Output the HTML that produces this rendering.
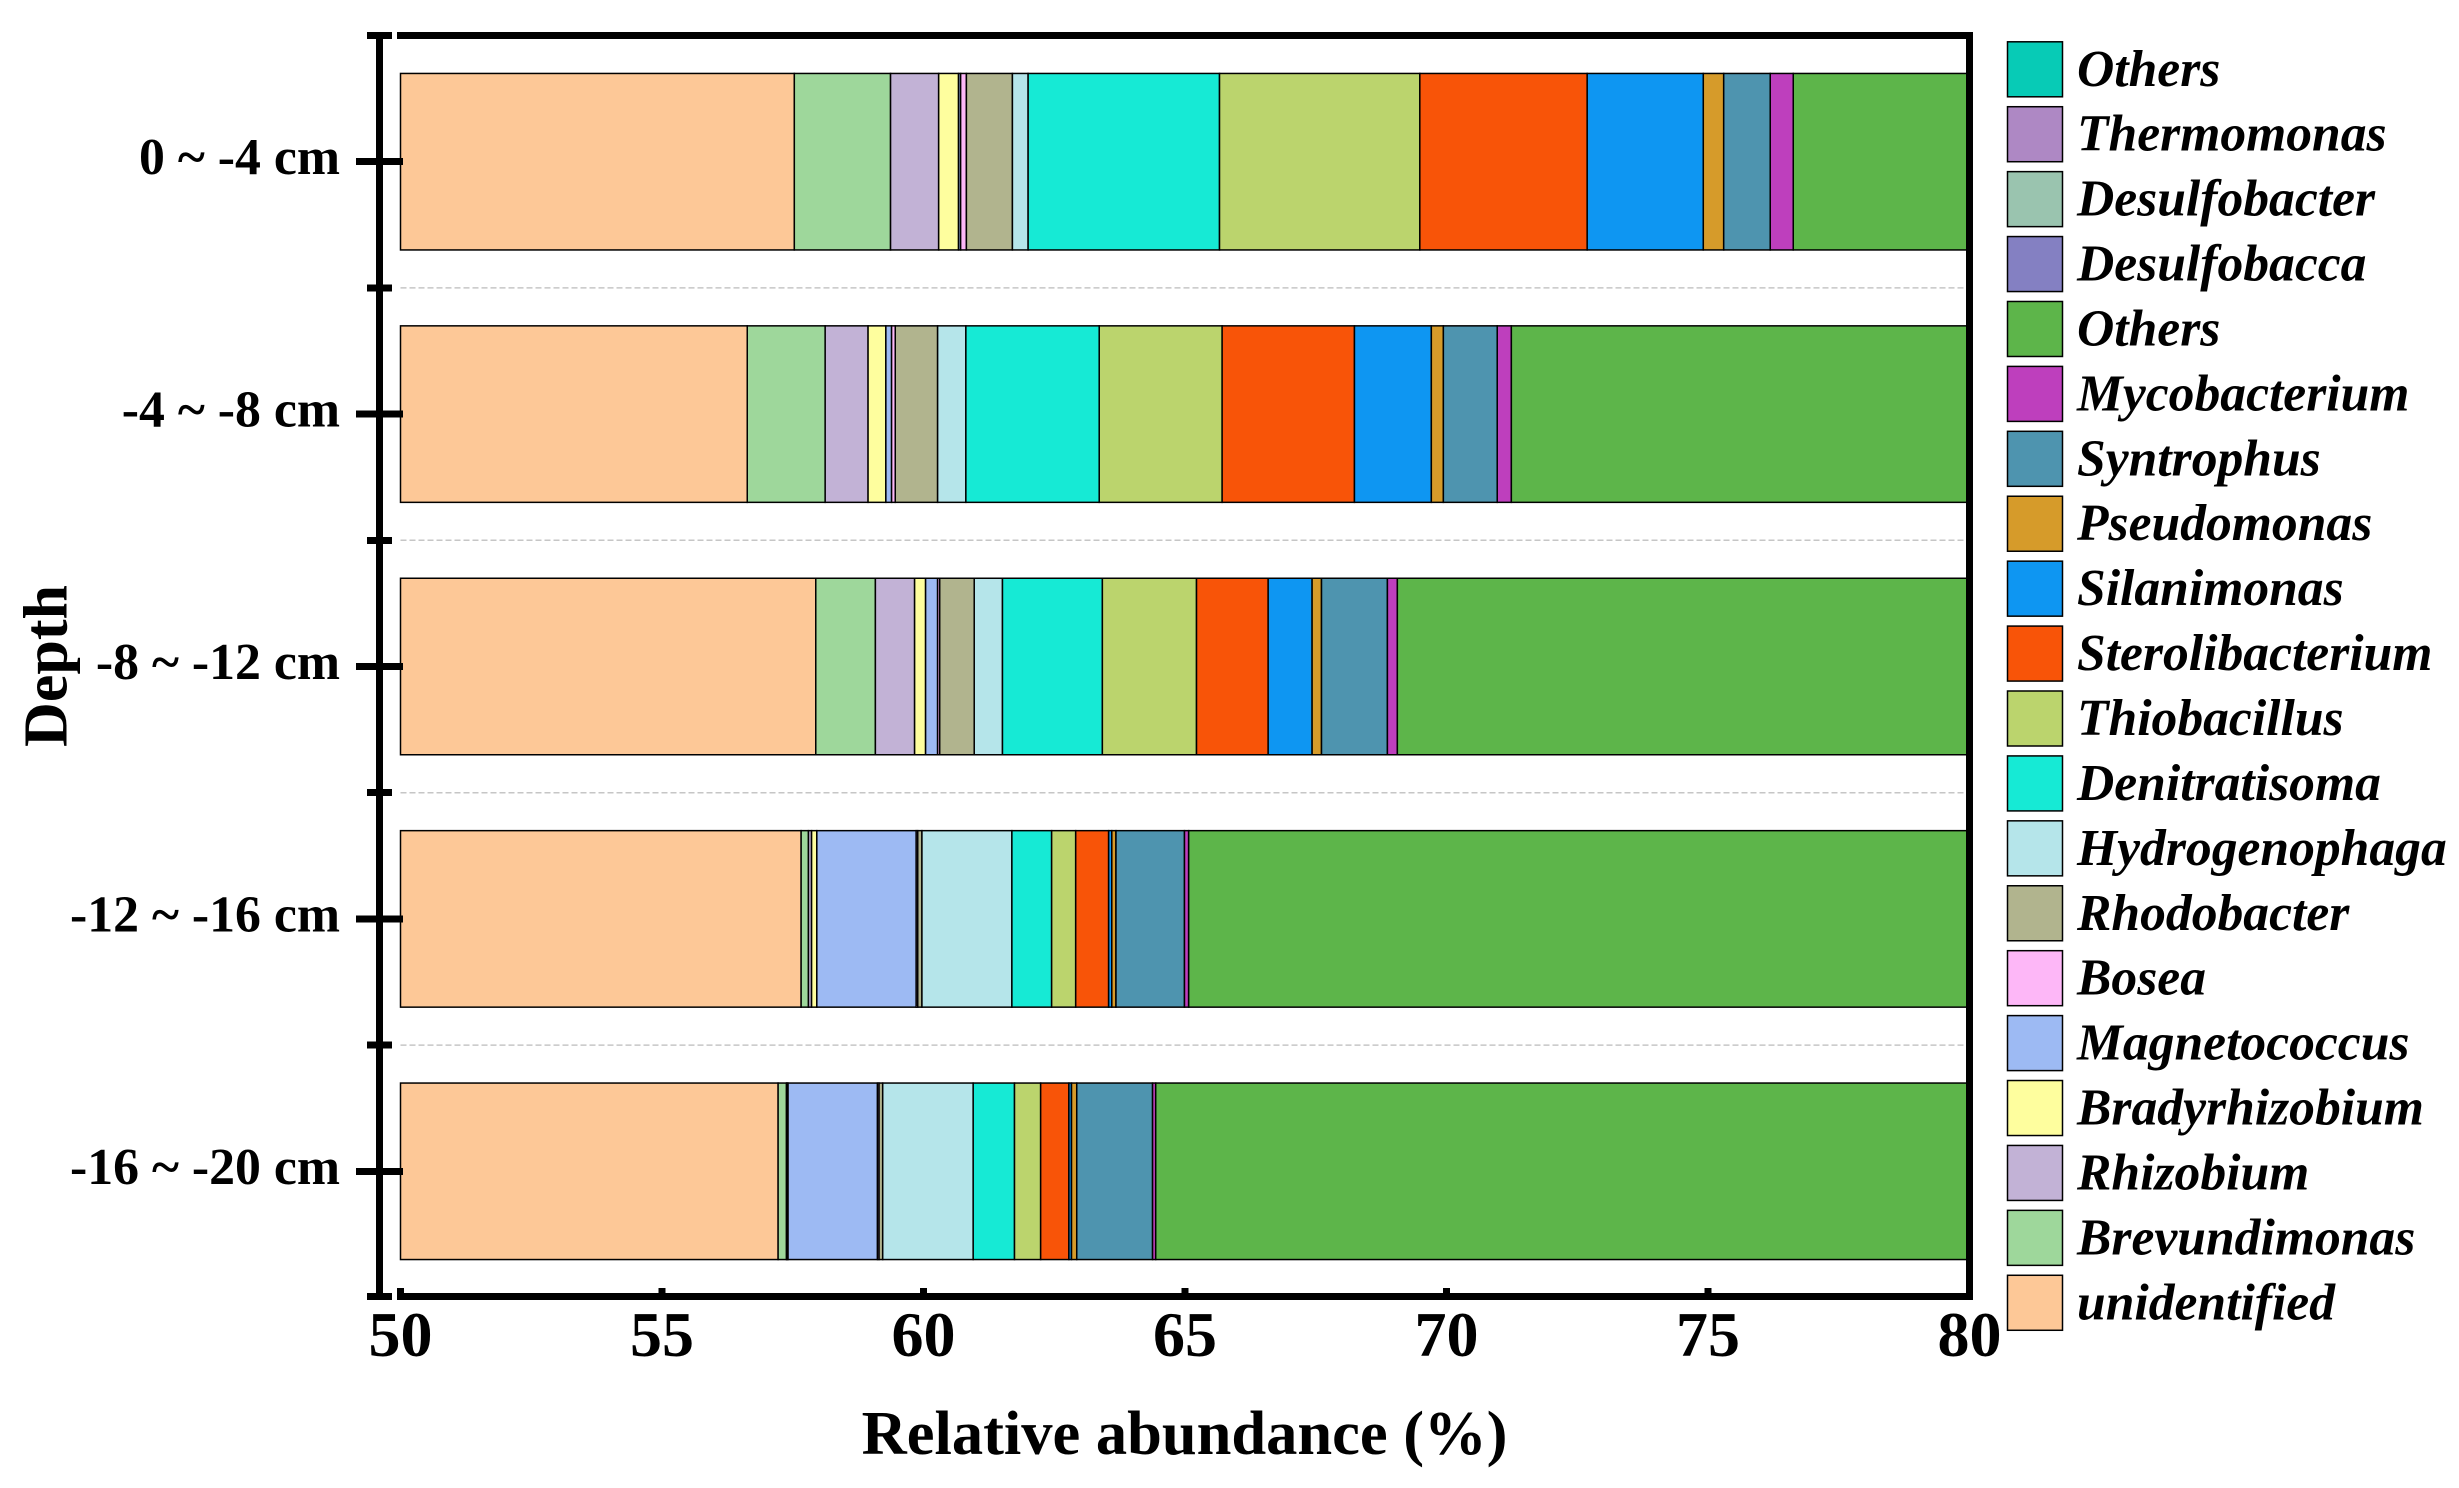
<!DOCTYPE html>
<html lang="en">
<head>
<meta charset="utf-8">
<title>Relative abundance by depth</title>
<style>
html,body{margin:0;padding:0;background:#fff;}
svg{display:block;}
text{font-family:"Liberation Serif",serif;font-weight:bold;fill:#000;}
.leg{font-style:italic;font-size:51.6px;}
.rect{shape-rendering:crispEdges;}
</style>
</head>
<body>
<svg id="chart" xmlns="http://www.w3.org/2000/svg" width="2459" height="1488" viewBox="0 0 2459 1488">
<defs><clipPath id="plot-clip"><rect x="395" y="39" width="1572" height="1254"/></clipPath></defs>
<rect x="0" y="0" width="2459" height="1488" fill="#fff"/>
<g id="grid"></g>
<g id="bars" clip-path="url(#plot-clip)"></g>
<g id="axes"></g>
<g id="legend"></g>
<text x="1184.5" y="1454" font-size="62.5" text-anchor="middle">Relative abundance (%)</text>
<text x="66.7" y="666" font-size="62" text-anchor="middle" transform="rotate(-90 66.7 666)">Depth</text>
</svg>
<script>
const categories = ["0 ~ -4 cm","-4 ~ -8 cm","-8 ~ -12 cm","-12 ~ -16 cm","-16 ~ -20 cm"];
const xTicks = [50,55,60,65,70,75,80];
const seriesNames = ["unidentified","Brevundimonas","Rhizobium","Bradyrhizobium","Magnetococcus","Bosea","Rhodobacter","Hydrogenophaga","Denitratisoma","Thiobacillus","Sterolibacterium","Silanimonas","Pseudomonas","Syntrophus","Mycobacterium","Others","Desulfobacca","Desulfobacter","Thermomonas","Others"];
const seriesColors = ["#FDC897","#9ED79B","#C2B2D6","#FEFE9E","#9DBAF3","#FDB7F7","#B1B48E","#B5E5EA","#16EAD5","#BBD46D","#F85408","#0E96F2","#D69B2A","#4E94AF","#BE3FBD","#5DB54A","#8480C2","#9AC4AF","#AE88C4","#07CBB6"];
const unidentified = [57.53,56.63,57.94,57.66,57.22];
const brevundimonas = [1.84,1.49,1.14,0.14,0.16];
const rhizobium = [0.92,0.82,0.75,0.06,0.01];
const bradyrhizobium = [0.38,0.34,0.21,0.10,0.02];
const magnetococcus = [0.04,0.11,0.23,1.90,1.71];
const bosea = [0.11,0.07,0.04,0.03,0.03];
const rhodobacter = [0.88,0.81,0.66,0.08,0.07];
const hydrogenophaga = [0.30,0.54,0.54,1.72,1.73];
const denitratisoma = [3.66,2.55,1.91,0.76,0.79];
const thiobacillus = [3.83,2.35,1.80,0.46,0.50];
const sterolibacterium = [3.20,2.53,1.37,0.63,0.54];
const silanimonas = [2.22,1.47,0.84,0.06,0.05];
const pseudomonas = [0.39,0.23,0.18,0.08,0.10];
const syntrophus = [0.89,1.03,1.26,1.31,1.45];
const mycobacterium = [0.44,0.27,0.19,0.08,0.06];
const othersMain = [23.37,28.76,30.94,34.93,35.56];
const seriesValues = [unidentified,brevundimonas,rhizobium,bradyrhizobium,magnetococcus,bosea,rhodobacter,hydrogenophaga,denitratisoma,thiobacillus,sterolibacterium,silanimonas,pseudomonas,syntrophus,mycobacterium,othersMain];

const NS = "http://www.w3.org/2000/svg";
function make(tag, parent, attrs, text){
  const el = document.createElementNS(NS, tag);
  for (const k in attrs) el.setAttribute(k, attrs[k]);
  if (text !== undefined) el.textContent = text;
  parent.appendChild(el);
  return el;
}
const X0 = 400.5, XPerUnit = 52.3, Y0 = 35.5, Band = 252.4, BarH = 176.5;
function xScale(v){ return X0 + (v - 50) * XPerUnit; }
function yBand(i){ return Y0 + i * Band; }
function yCenter(i){ return yBand(i) + Band / 2; }

const gGrid = document.getElementById("grid");
const gBars = document.getElementById("bars");
const gAxes = document.getElementById("axes");
const gLegend = document.getElementById("legend");

/* dashed separators */
for (let i = 1; i < categories.length; i++) {
  const ln = make("line", gGrid, {x1: X0, x2: 1966, y1: yBand(i), y2: yBand(i), stroke: "#c6c6c6", "stroke-width": 1.5, "stroke-dasharray": "6 3"});
  
  
}

/* stacked bars */
categories.forEach(function(cat, c){
  let cum = 0;
  seriesValues.forEach(function(vals, s){
    const start = cum;
    cum += vals[c];
    const x1 = xScale(Math.max(start, 50));
    const x2 = xScale(cum);
    if (x2 <= x1) return;
    const r = make("rect", gBars, {x: x1, y: yCenter(c) - BarH / 2, width: x2 - x1, height: BarH, fill: seriesColors[s], stroke: "#000", "stroke-width": 1.5});
    
    
  });
});

/* axes frame */
const spineTop = make("rect", gAxes, {x: 397, y: 32, width: 1576, height: 7, fill: "#000", class: "rect"});


const spineRight = make("rect", gAxes, {x: 1966, y: 32, width: 7, height: 1268, fill: "#000", class: "rect"});


const spineBottom = make("rect", gAxes, {x: 397, y: 1293, width: 1576, height: 7, fill: "#000", class: "rect"});


const spineLeft = make("rect", gAxes, {x: 376, y: 32, width: 7, height: 1268, fill: "#000", class: "rect"});



/* y minor ticks */
for (let i = 0; i <= categories.length; i++) {
  const y = Math.min(yBand(i), 1296.5);
  const t = make("rect", gAxes, {x: 367, y: y - 3.5, width: 25, height: 7, fill: "#000", class: "rect"});
  
  
}
/* y major ticks and labels */
categories.forEach(function(cat, c){
  const t = make("rect", gAxes, {x: 356, y: yCenter(c) - 3.5, width: 47, height: 7, fill: "#000", class: "rect"});
  
  
  const l = make("text", gAxes, {x: 340, y: yCenter(c) + 12.5, "font-size": 51.8, "text-anchor": "end"}, cat);
  
  
});
/* x ticks and labels */
xTicks.forEach(function(v){
  const t = make("rect", gAxes, {x: xScale(v) - 3.3, y: 1288, width: 6.6, height: 8, fill: "#000", class: "rect"});
  
  
  const l = make("text", gAxes, {x: xScale(v), y: 1356, "font-size": 64, "text-anchor": "middle"}, String(v));
  
  
});

/* legend, top entry is the last series */
const LegTop = 41.8, LegStep = 64.92;
for (let s = seriesNames.length - 1, row = 0; s >= 0; s--, row++) {
  const y = LegTop + row * LegStep;
  const sw = make("rect", gLegend, {x: 2007.5, y: y, width: 55, height: 55, fill: seriesColors[s], stroke: "#000", "stroke-width": 1.5});
  
  
  const tx = make("text", gLegend, {x: 2077, y: y + 44, class: "leg"}, seriesNames[s]);
  
  
}
</script>
</body>
</html>
